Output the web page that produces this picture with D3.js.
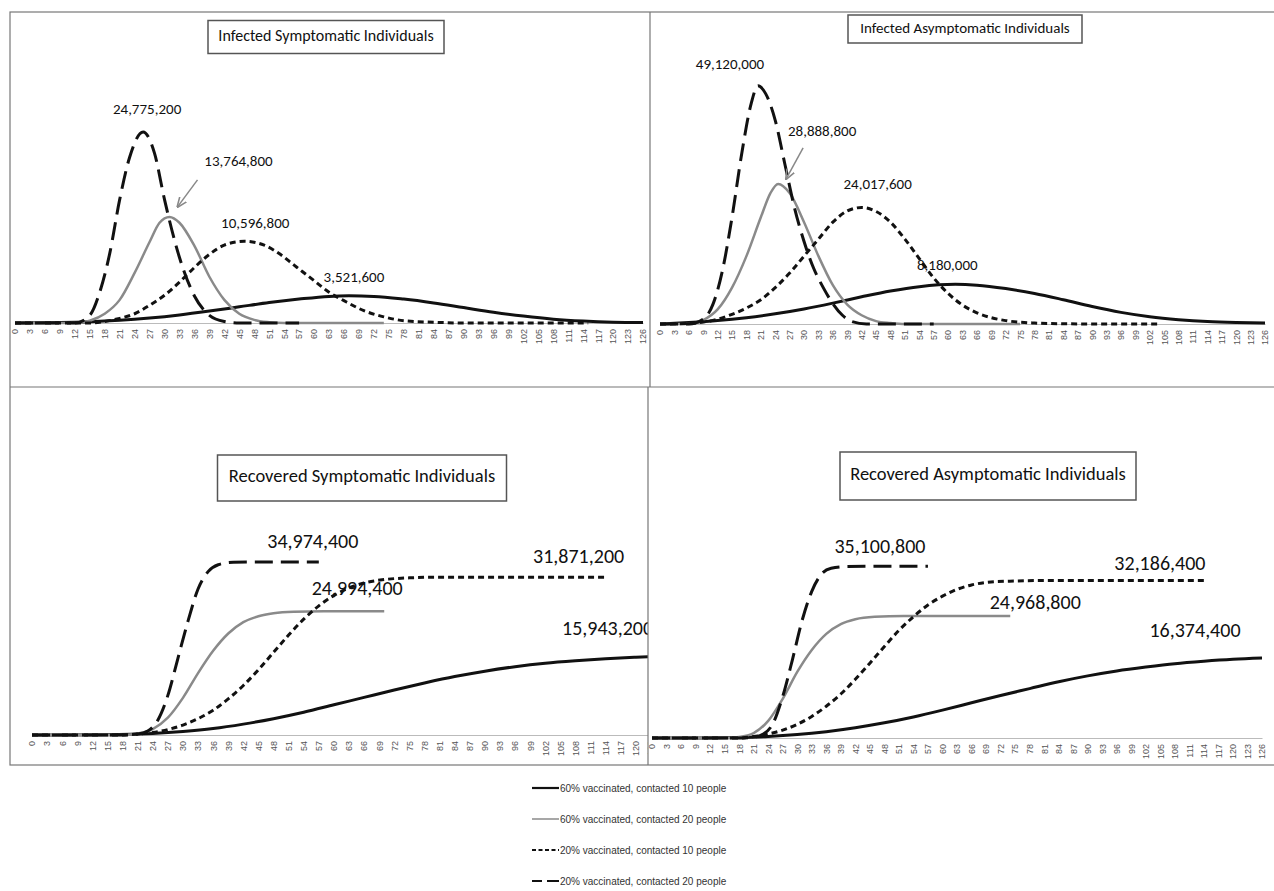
<!DOCTYPE html>
<html>
<head>
<meta charset="utf-8">
<script src="https://d3js.org/d3.v7.min.js"></script>
<style>
  body { margin: 0; background: #fff; }
  .lbl { font-family: Carlito, 'Liberation Sans Narrow', 'Noto Sans', sans-serif; fill: #111; }
  .tick-lbl { font-family: 'Liberation Sans', Arial, sans-serif; font-size: 9px; fill: #555; }
  .legend { font-family: 'Liberation Sans', Arial, sans-serif; font-size: 10px; fill: #333; }
</style>
</head>
<body>
<svg width="1274" height="891" id="mainsvg"></svg>
<script>
// days on the x axis (every 3 days, 0..126)
const dayTicks = d3.range(0, 127, 3);

const seriesNames = ['60% vaccinated, contacted 10 people', '60% vaccinated, contacted 20 people',
  '20% vaccinated, contacted 10 people', '20% vaccinated, contacted 20 people'];

// values in millions of people, [day, value]
// Infected Symptomatic
const isV60C10 = [[0,0],[9,0.05],[15,0.15],[21,0.35],[27,0.65],[33,1.05],[39,1.55],[45,2.1],[51,2.65],[57,3.1],[63,3.45],[67,3.52],[72,3.45],[78,3.1],[84,2.6],[90,2.0],[96,1.4],[102,0.9],[108,0.5],[114,0.25],[120,0.1],[126,0.05]];
const isV60C20 = [[0,0],[12,0],[15,0.3],[18,1.2],[21,3],[24,6.5],[27,10.5],[29,13],[31,13.76],[33,13],[36,10],[39,6],[42,3],[45,1.2],[48,0.4],[51,0.1],[54,0],[74,0]];
const isV20C10 = [[0,0],[15,0],[18,0.2],[21,0.6],[24,1.2],[27,2.3],[30,3.6],[33,5.3],[36,7.2],[39,8.9],[42,10.1],[46,10.6],[50,10.1],[53,9],[56,7.5],[60,5.5],[63,4],[66,2.9],[70,1.6],[74,0.8],[78,0.3],[84,0.1],[90,0],[115,0]];
const isV20C20 = [[0,0],[12,0],[15,1],[17,4],[19,9],[21,16],[23,21.5],[25.7,24.78],[28,22],[30,16],[33,8.5],[36,3.5],[39,1],[42,0.2],[45,0],[57,0]];

// Infected Asymptomatic
const iaV60C10 = [[0,0],[6,0.3],[12,0.7],[18,1.3],[24,2.1],[30,3.1],[36,4.3],[42,5.6],[48,6.8],[54,7.7],[61.5,8.18],[66,8.0],[72,7.3],[78,6.3],[84,5.0],[90,3.6],[96,2.4],[102,1.5],[108,0.9],[114,0.5],[120,0.3],[126,0.2]];
const iaV60C20 = [[0,0],[6,0],[9,0.8],[12,3],[15,7.5],[18,14],[21,22],[23,27],[24.6,28.89],[27,27],[30,21],[33,14],[36,8],[39,4],[42,1.8],[45,0.6],[48,0.2],[51,0],[75,0]];
const iaV20C10 = [[0,0],[6,0.1],[9,0.4],[12,1],[15,2],[18,3.3],[21,5],[24,7.5],[27,10.5],[30,14],[33,17.5],[36,21],[39,23.3],[42,24.02],[45,23.2],[48,21],[51,17.5],[54,13.5],[57,9.5],[60,6.3],[63,3.9],[66,2.3],[69,1.3],[72,0.7],[78,0.2],[84,0.05],[90,0],[104,0]];
const iaV20C20 = [[0,0],[6,0],[9,1],[11,4],[13,11],[15,22],[17,35],[19,45.5],[20.4,49.12],[22,47.5],[24,42],[26,33],[28,24],[30,17],[32,11.5],[34,7.5],[36,4.2],[38,1.8],[40,0.5],[43,0],[57,0]];

// Recovered Symptomatic
const rsV60C10 = [[0,0],[15,0.05],[24,0.3],[30,0.7],[36,1.3],[42,2.2],[48,3.3],[54,4.6],[60,6.1],[66,7.6],[72,9.1],[78,10.5],[84,11.8],[90,12.9],[96,13.8],[102,14.5],[108,15.0],[114,15.4],[120,15.7],[126,15.94]];
const rsV60C20 = [[0,0],[18,0],[21,0.3],[24,1.2],[27,3.5],[30,7.5],[33,12.5],[36,17],[39,20.5],[42,22.8],[45,24],[48,24.6],[52,24.9],[58,24.99],[70,24.99]];
const rsV20C10 = [[0,0],[18,0],[21,0.2],[24,0.5],[27,1.1],[30,2],[33,3.3],[36,5],[39,7.3],[42,10],[45,13.2],[48,16.7],[51,20.2],[54,23.4],[57,26.1],[60,28.2],[63,29.7],[66,30.7],[70,31.4],[75,31.75],[80,31.87],[114,31.87]];
const rsV20C20 = [[0,0],[18,0],[21,0.2],[23,0.8],[25,3],[27,8],[29,15.5],[31,23],[33,29.5],[35,33],[37,34.4],[40,34.9],[44,34.97],[57,34.97]];

// Recovered Asymptomatic
const raV60C10 = [[0,0],[15,0.05],[24,0.3],[30,0.7],[36,1.3],[42,2.1],[48,3.1],[54,4.3],[60,5.7],[66,7.2],[72,8.7],[78,10.1],[84,11.5],[90,12.7],[96,13.7],[102,14.5],[108,15.2],[114,15.7],[120,16.1],[126,16.37]];
const raV60C20 = [[0,0],[15,0],[18,0.2],[21,1],[24,3.5],[27,8],[30,13.5],[33,18],[36,21.3],[39,23.3],[42,24.3],[46,24.8],[52,24.97],[74,24.97]];
const raV20C10 = [[0,0],[18,0],[21,0.3],[24,0.8],[27,1.6],[30,2.8],[33,4.4],[36,6.5],[39,9],[42,12],[45,15.3],[48,18.7],[51,22],[54,24.8],[57,27.2],[60,29],[63,30.4],[66,31.3],[70,31.9],[75,32.1],[80,32.19],[114,32.19]];
const raV20C20 = [[0,0],[18,0],[21,0.2],[23,0.8],[25,3],[27,8.5],[29,16],[31,24],[33,30],[35,33.5],[37,34.7],[40,35.05],[44,35.1],[57,35.1]];

// annotation texts
const isLabels = ['3,521,600', '13,764,800', '10,596,800', '24,775,200'];
const iaLabels = ['8,180,000', '28,888,800', '24,017,600', '49,120,000'];
const rsLabels = ['15,943,200', '24,994,400', '31,871,200', '34,974,400'];
const raLabels = ['16,374,400', '24,968,800', '32,186,400', '35,100,800'];

const titles = ['Infected Symptomatic Individuals', 'Infected Asymptomatic Individuals',
  'Recovered Symptomatic Individuals', 'Recovered Asymptomatic Individuals'];

// line styles per series
const styles = [
  {stroke: '#111', width: 3, dash: null},
  {stroke: '#8a8a8a', width: 2.5, dash: null},
  {stroke: '#111', width: 3, dash: '6,4'},
  {stroke: '#111', width: 3, dash: '18,8'}
];

const svg = d3.select('#mainsvg');

svg.append('defs').append('marker')
  .attr('id', 'arr').attr('viewBox', '0 0 10 10').attr('refX', 9).attr('refY', 5)
  .attr('markerWidth', 7).attr('markerHeight', 7).attr('orient', 'auto')
  .append('path').attr('d', 'M0,1 L10,5 L0,9').attr('fill', 'none').attr('stroke', '#888').attr('stroke-width', 1.5);

// layout of the four panels
const panels = [
  {box: [10, 12, 650, 387], x: [15, 643], y: [323, 91.7], ymax: 30,
   data: [isV60C10, isV60C20, isV20C10, isV20C20], labels: isLabels,
   title: {cx: 326, cy: 37, w: 236, h: 33, size: 16},
   ann: [{at: 'peak', dx: 5, dy: -17}, {at: 'peak', dx: 69, dy: -54, arrow: [[28, -37], [8, -10]]},
         {at: 'peak', dx: 11, dy: -17}, {at: 'peak', dx: 4, dy: -22}], fs: 15},
  {box: [650, 12, 1274, 387], x: [660, 1265], y: [324, 81.5], ymax: 50,
   data: [iaV60C10, iaV60C20, iaV20C10, iaV20C20], labels: iaLabels,
   title: {cx: 965, cy: 29, w: 234, h: 28, size: 15},
   ann: [{at: 'peak', dx: -8, dy: -18}, {at: 'peak', dx: 44, dy: -51, arrow: [[25, -36], [8, -5]]},
         {at: 'peak', dx: 16, dy: -22}, {at: 'peak', dx: -28, dy: -20}], fs: 15},
  {box: [10, 387, 648, 765], x: [32, 666], y: [735, 537], ymax: 40,
   data: [rsV60C10, rsV60C20, rsV20C10, rsV20C20], labels: rsLabels,
   title: {cx: 362, cy: 478, w: 289, h: 46, size: 18.5},
   ann: [{at: 'end', dx: -104, dy: -26, anchor: 'start'}, {at: 'end', dx: -27, dy: -21},
         {at: 'end', dx: -27, dy: -19}, {at: 'end', dx: -6, dy: -19}], fs: 20},
  {box: [648, 387, 1274, 765], x: [652, 1262], y: [738, 542.4], ymax: 40,
   data: [raV60C10, raV60C20, raV20C10, raV20C20], labels: raLabels,
   title: {cx: 988, cy: 476, w: 296, h: 48, size: 18.5},
   ann: [{at: 'end', dx: -67, dy: -26}, {at: 'end', dx: 25, dy: -12},
         {at: 'end', dx: -44, dy: -15}, {at: 'end', dx: -48, dy: -18}], fs: 20}
];

panels.forEach((p, i) => {
  const [x0, y0, x1, y1] = p.box;
  const clipId = 'clip' + i;
  svg.append('clipPath').attr('id', clipId)
    .append('rect').attr('x', x0).attr('y', y0).attr('width', x1 - x0).attr('height', y1 - y0);

  const g = svg.append('g').attr('clip-path', `url(#${clipId})`);

  const xScale = d3.scaleLinear().domain([0, 126]).range(p.x);
  const yScale = d3.scaleLinear().domain([0, p.ymax]).range(p.y);

  // x axis with rotated tick labels
  const xAxis = d3.axisBottom(xScale).tickValues(dayTicks).tickSize(0).tickPadding(0);
  const ax = g.append('g').attr('transform', `translate(0, ${p.y[0]})`).call(xAxis);
  ax.select('.domain').attr('stroke', '#bbb').attr('stroke-width', 1);
  ax.selectAll('.tick text')
    .attr('class', 'tick-lbl')
    .attr('transform', 'rotate(-90)')
    .attr('text-anchor', 'end')
    .attr('x', -6).attr('y', 0).attr('dy', '0.32em')
    .attr('fill', '#555').attr('font-size', null).attr('font-family', null);

  const line = d3.line()
    .x(d => xScale(d[0]))
    .y(d => yScale(d[1]))
    .curve(d3.curveMonotoneX);

  p.data.forEach((s, k) => {
    const st = styles[k];
    g.append('path').datum(s)
      .attr('d', line)
      .attr('fill', 'none')
      .attr('stroke', st.stroke)
      .attr('stroke-width', st.width)
      .attr('stroke-dasharray', st.dash)
      .attr('stroke-linejoin', 'round');
  });

  // annotations
  p.data.forEach((s, k) => {
    const a = p.ann[k];
    const pt = a.at === 'peak' ? s.reduce((m, d) => d[1] > m[1] ? d : m) : s[s.length - 1];
    const px = xScale(pt[0]), py = yScale(pt[1]);
    g.append('text').attr('class', 'lbl')
      .attr('x', px + a.dx).attr('y', py + a.dy)
      .attr('text-anchor', a.anchor || 'middle').attr('dominant-baseline', 'middle')
      .attr('font-size', p.fs)
      .text(p.labels[k]);
    if (a.arrow) {
      g.append('line')
        .attr('x1', px + a.arrow[0][0]).attr('y1', py + a.arrow[0][1])
        .attr('x2', px + a.arrow[1][0]).attr('y2', py + a.arrow[1][1])
        .attr('stroke', '#888').attr('stroke-width', 1.5)
        .attr('marker-end', 'url(#arr)');
    }
  });

  // title box
  const t = p.title;
  g.append('rect')
    .attr('x', t.cx - t.w / 2).attr('y', t.cy - t.h / 2)
    .attr('width', t.w).attr('height', t.h)
    .attr('fill', '#fff').attr('stroke', '#555').attr('stroke-width', 1.5);
  g.append('text').attr('class', 'lbl')
    .attr('x', t.cx).attr('y', t.cy)
    .attr('text-anchor', 'middle').attr('dominant-baseline', 'middle')
    .attr('font-size', t.size)
    .text(titles[i]);
});

// frame and dividers
svg.append('rect').attr('x', 10).attr('y', 12).attr('width', 1270).attr('height', 753)
  .attr('fill', 'none').attr('stroke', '#777').attr('stroke-width', 1.2);
svg.append('line').attr('x1', 10).attr('x2', 1274).attr('y1', 387).attr('y2', 387)
  .attr('stroke', '#777').attr('stroke-width', 1.2);
svg.append('line').attr('x1', 650).attr('x2', 650).attr('y1', 12).attr('y2', 387)
  .attr('stroke', '#777').attr('stroke-width', 1.2);
svg.append('line').attr('x1', 648).attr('x2', 648).attr('y1', 387).attr('y2', 765)
  .attr('stroke', '#777').attr('stroke-width', 1.2);

// legend
const legend = svg.append('g').attr('transform', 'translate(532, 788)');
seriesNames.forEach((name, k) => {
  const st = styles[k];
  const row = legend.append('g').attr('transform', `translate(0, ${k * 31})`);
  row.append('line').attr('x1', 0).attr('x2', 27).attr('y1', 0).attr('y2', 0)
    .attr('stroke', st.stroke).attr('stroke-width', k === 1 ? 1.5 : 2.2)
    .attr('stroke-dasharray', k === 2 ? '4,2.5' : (k === 3 ? '10,5,5,0' : null));
  row.append('text').attr('class', 'legend')
    .attr('x', 28).attr('y', 0).attr('dy', '0.35em')
    .text(name);
});
</script>
</body>
</html>
